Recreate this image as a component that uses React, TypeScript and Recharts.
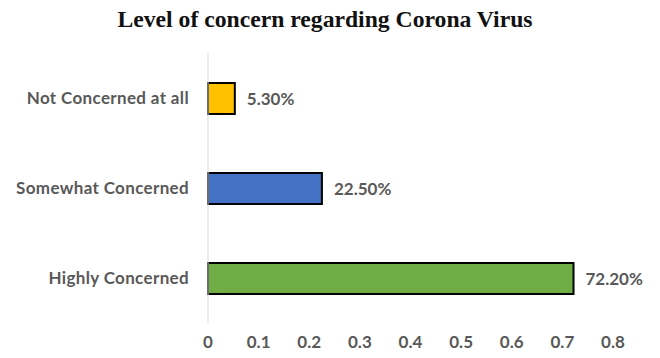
import React from 'react';
import { BarChart, Bar, XAxis, YAxis, Cell, LabelList } from 'recharts';

const categories = ['Not Concerned at all', 'Somewhat Concerned', 'Highly Concerned'];
const shares = [0.053, 0.225, 0.722];
const barColors = ['#FFC000', '#4472C4', '#70AD47'];
const xTicks = [0, 0.1, 0.2, 0.3, 0.4, 0.5, 0.6, 0.7, 0.8];
const title = 'Level of concern regarding Corona Virus';

const data = categories.map((c, i) => ({ name: c, value: shares[i] }));

const labelFont = 'Lato, "Open Sans", sans-serif';
const textColor = '#595959';

const YTick = (props: any) => {
  const { x, y, payload } = props;
  return (
    <text x={x} y={y} dy={6} textAnchor="end" fill={textColor} fontFamily={labelFont} fontSize={17} fontWeight={700} letterSpacing={0.35}>
      {payload.value}
    </text>
  );
};

const XTick = (props: any) => {
  const { x, y, payload } = props;
  return (
    <text x={x} y={y} dy={17} textAnchor="middle" fill={textColor} fontFamily={labelFont} fontSize={17} fontWeight={700}>
      {payload.value}
    </text>
  );
};

export default function App() {
  return (
    <div style={{ position: 'absolute', left: 0, top: 0, width: 660, height: 358, background: '#fff' }}>
      <svg width={660} height={40} style={{ position: 'absolute', left: 0, top: 0 }}>
        <text
          x={325}
          y={27}
          textAnchor="middle"
          fontFamily='"Liberation Serif", "Times New Roman", serif'
          fontWeight={700}
          fontSize={23}
          textLength={415}
          lengthAdjust="spacingAndGlyphs"
          fill="#111"
        >
          {title}
        </text>
      </svg>
      <div style={{ position: 'absolute', left: 0, top: 0 }}>
        <BarChart
          width={660}
          height={358}
          data={data}
          layout="vertical"
          margin={{ top: 53, right: 47, bottom: 0, left: 0 }}
        >
          <XAxis
            type="number"
            domain={[0, 0.8]}
            ticks={xTicks}
            axisLine={false}
            tickLine={false}
            height={35}
            tick={<XTick />}
            interval={0}
          />
          <YAxis
            type="category"
            dataKey="name"
            width={208}
            axisLine={{ stroke: '#D9D9D9', strokeWidth: 1 }}
            tickLine={false}
            tickMargin={13}
            tick={<YTick />}
          />
          <Bar dataKey="value" barSize={31} stroke="#000" strokeWidth={2} isAnimationActive={false}>
            {data.map((d, i) => (
              <Cell key={d.name} fill={barColors[i]} />
            ))}
            <LabelList
              dataKey="value"
              position="right"
              offset={12}
              formatter={(v: any) => `${(Number(v) * 100).toFixed(2)}%`}
              fill={textColor}
              fontFamily={labelFont}
              fontSize={17}
              fontWeight={700}
            />
          </Bar>
        </BarChart>
      </div>
    </div>
  );
}
